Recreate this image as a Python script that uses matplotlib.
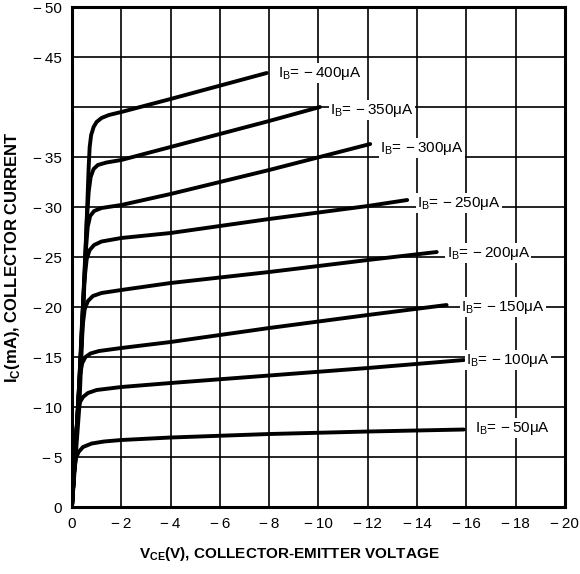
import matplotlib.pyplot as plt
import numpy as np

plt.rcParams['font.family'] = ['Liberation Sans', 'DejaVu Sans']
plt.rcParams['mathtext.fontset'] = 'custom'
plt.rcParams['mathtext.rm'] = 'Liberation Sans'
plt.rcParams['mathtext.bf'] = 'Liberation Sans:bold'

# Base currents (uA) and curves: V_CE (V), I_C (mA)
ib_values = [-50, -100, -150, -200, -250, -300, -350, -400]

vce_50 = [0, -0.05, -0.1, -0.17, -0.27, -0.45, -0.8, -1.3, -2, -4, -8, -12, -15.9]
ic_50 = [0, -2, -3.8, -4.9, -5.5, -6.0, -6.35, -6.55, -6.7, -6.95, -7.3, -7.55, -7.75]

vce_100 = [0, -0.1, -0.18, -0.25, -0.33, -0.45, -0.65, -1.0, -2, -4, -8, -12, -15.9]
ic_100 = [0, -4, -7.5, -9.6, -10.5, -11.0, -11.4, -11.7, -12.0, -12.4, -13.15, -13.9, -14.7]

vce_150 = [0, -0.15, -0.25, -0.33, -0.42, -0.55, -0.75, -1.1, -2, -4, -8, -12, -15.2]
ic_150 = [0, -6, -10.5, -13.2, -14.4, -15.0, -15.35, -15.6, -15.9, -16.5, -17.9, -19.2, -20.2]

vce_200 = [0, -0.2, -0.33, -0.43, -0.52, -0.65, -0.85, -1.2, -2, -4, -8, -12, -14.8]
ic_200 = [0, -8, -14, -18, -19.8, -20.6, -21.1, -21.4, -21.7, -22.4, -23.5, -24.7, -25.5]

vce_250 = [0, -0.25, -0.4, -0.5, -0.6, -0.72, -0.9, -1.2, -2, -4, -8, -12, -13.6]
ic_250 = [0, -10, -18, -22.5, -24.8, -25.7, -26.2, -26.55, -26.9, -27.4, -28.8, -30.1, -30.7]

vce_300 = [0, -0.28, -0.45, -0.56, -0.64, -0.74, -0.9, -1.2, -2, -4, -8, -12.1]
ic_300 = [0, -11, -20, -25.5, -28.0, -29.1, -29.6, -29.9, -30.2, -31.3, -33.7, -36.3]

vce_350 = [0, -0.3, -0.5, -0.6, -0.68, -0.76, -0.88, -1.05, -1.4, -2, -4, -8, -10.06]
ic_350 = [0, -12, -23, -28.5, -31.5, -33.0, -33.8, -34.2, -34.45, -34.7, -36.0, -38.6, -40.0]

vce_400 = [0, -0.3, -0.5, -0.62, -0.68, -0.72, -0.78, -0.88, -1.0, -1.2, -1.5, -2, -4, -7.9]
ic_400 = [0, -10, -22, -30, -34, -36, -37.2, -38.0, -38.5, -38.9, -39.2, -39.5, -40.8, -43.4]

curves = [(vce_50, ic_50), (vce_100, ic_100), (vce_150, ic_150), (vce_200, ic_200),
          (vce_250, ic_250), (vce_300, ic_300), (vce_350, ic_350), (vce_400, ic_400)]

# label anchor (left, centre) for each curve
label_v = [-16.35, -16.0, -15.8, -15.2, -14.0, -12.5, -10.47, -8.36]
label_i = [-7.9, -14.7, -20.0, -25.4, -30.4, -35.9, -39.7, -43.4]

MINUS = '\u2212\u2009'
x_ticks = [0, -2, -4, -6, -8, -10, -12, -14, -16, -18, -20]
y_ticks = [0, -5, -10, -15, -20, -25, -30, -35, -40, -45, -50]
y_ticklabels = ['0'] + [MINUS + str(-v) for v in y_ticks[1:]]
y_ticklabels[8] = ''  # -40 has no label in the original
x_ticklabels = ['0'] + [MINUS + str(-v) for v in x_ticks[1:]]

fig = plt.figure(figsize=(5.8, 5.74), dpi=100)
ax = fig.add_axes([0.124, 0.1167, 0.850, 0.8711])

for v, i in curves:
    ax.plot(v, i, color='black', lw=2.8, solid_capstyle='round',
            solid_joinstyle='round', zorder=3)

for ib, lv, li in zip(ib_values, label_v, label_i):
    ax.text(lv, li, 'I$_\\mathregular{B}$= ' + MINUS + '%d\u03bcA' % (-ib), fontsize=11,
            ha='left', va='center', zorder=4,
            bbox=dict(fc='white', ec='none', pad=1.0))

ax.set_xlim(0, -20)
ax.set_ylim(0, -50)
ax.set_xticks(x_ticks)
ax.set_xticklabels(x_ticklabels, fontsize=11)
ax.set_yticks(y_ticks)
ax.set_yticklabels(y_ticklabels, fontsize=11)
ax.tick_params(length=0, pad=7)
ax.grid(True, color='black', lw=1.2)
ax.set_axisbelow(True)
for s in ax.spines.values():
    s.set_linewidth(2.2)

ax.set_xlabel('V$_\\mathbf{CE}$(V), COLLECTOR-EMITTER VOLTAGE',
              fontsize=11, fontweight='bold', labelpad=12)
ax.xaxis.set_label_coords(0.44, -0.075)
ax.set_ylabel('I$_\\mathbf{C}$(mA), COLLECTOR CURRENT',
              fontsize=12, fontweight='bold', labelpad=8)

fig.savefig('out.png', dpi=100)
